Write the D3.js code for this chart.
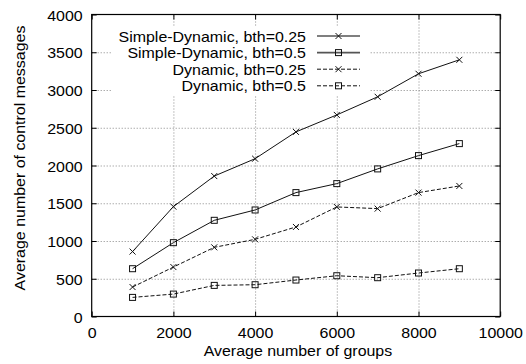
<!DOCTYPE html>
<html><head><meta charset="utf-8">
<script src="https://cdn.jsdelivr.net/npm/d3@7"></script>
<style>
body{margin:0;background:#fff;}
text{font-family:"Liberation Sans",Arial,sans-serif;font-size:14px;fill:#000;}
</style></head>
<body><svg id="c" width="526" height="364"></svg>
<script>
const groups = [1000,2000,3000,4000,5000,6000,7000,8000,9000];
const sd025 = [860,1455,1860,2090,2445,2670,2910,3215,3400];
const sd05  = [633,978,1274,1411,1641,1760,1955,2131,2290];
const dy025 = [390,655,916,1022,1186,1451,1429,1641,1729];
const dy05  = [253,297,412,421,483,540,514,576,633];
const seriesNames = ["Simple-Dynamic, bth=0.25","Simple-Dynamic, bth=0.5","Dynamic, bth=0.25","Dynamic, bth=0.5"];
const xTicks = [0,2000,4000,6000,8000,10000];
const yTicks = [0,500,1000,1500,2000,2500,3000,3500,4000];
const xTitle = "Average number of groups";
const yTitle = "Average number of control messages";

const series = [
  {name:seriesNames[0], vals:sd025, marker:"x", dash:null},
  {name:seriesNames[1], vals:sd05, marker:"sq", dash:null},
  {name:seriesNames[2], vals:dy025, marker:"x", dash:"4,2"},
  {name:seriesNames[3], vals:dy05, marker:"sq", dash:"4,2"}
];

const SX = 1.14;
const L=91.7, R=500.2, T=14.5, B=316.5;
const svg = d3.select("#c");
const x = d3.scaleLinear().domain([0,10000]).range([L,R]);
const y = d3.scaleLinear().domain([0,4000]).range([B,T]);

// grid
const grid = svg.append("g");
grid.append("g").attr("transform",`translate(0,${B})`)
  .call(d3.axisBottom(x).tickValues(xTicks.slice(1,-1)).tickSize(-(B-T)).tickFormat(""))
  .call(g=>{g.select(".domain").remove();g.selectAll("line").attr("stroke","#888").attr("stroke-dasharray","1,2");});
grid.append("g").attr("transform",`translate(${L},0)`)
  .call(d3.axisLeft(y).tickValues(yTicks.slice(1,-1)).tickSize(-(R-L)).tickFormat(""))
  .call(g=>{g.select(".domain").remove();g.selectAll("line").attr("stroke","#888").attr("stroke-dasharray","1,2");});

// legend mask (opaque key)
svg.append("rect").attr("x",112).attr("y",27).attr("width",258).attr("height",68).attr("fill","#fff");

// ticks on all sides
const tk = 5;
function tickAxis(gen, tr){
  svg.append("g").attr("transform",tr).call(gen)
    .call(g=>{g.select(".domain").remove();g.selectAll("line").attr("stroke","#000");});
}
tickAxis(d3.axisBottom(x).tickValues(xTicks).tickSize(-tk).tickFormat(""), `translate(0,${B})`);
tickAxis(d3.axisTop(x).tickValues(xTicks).tickSize(-tk).tickFormat(""), `translate(0,${T})`);
tickAxis(d3.axisLeft(y).tickValues(yTicks).tickSize(-tk).tickFormat(""), `translate(${L},0)`);
tickAxis(d3.axisRight(y).tickValues(yTicks).tickSize(-tk).tickFormat(""), `translate(${R},0)`);

// labels
const xa = svg.append("g").attr("transform",`translate(0,${B})`)
  .call(d3.axisBottom(x).tickValues(xTicks).tickSize(0).tickFormat(d3.format("d")));
xa.select(".domain").remove();
xa.selectAll("text").attr("y",0).attr("dy",null).attr("font-size",null).attr("font-family",null)
  .attr("transform",`translate(0,21) scale(${SX},1)`).style("font-size","14px");
const ya = svg.append("g").attr("transform",`translate(${L},0)`)
  .call(d3.axisLeft(y).tickValues(yTicks).tickSize(0).tickFormat(d3.format("d")));
ya.select(".domain").remove();
ya.selectAll("text").attr("x",0).attr("dy",null).attr("font-size",null).attr("font-family",null)
  .attr("transform",`translate(-9,5.5) scale(${SX},1)`).style("font-size","14px");

// frame
svg.append("rect").attr("x",L).attr("y",T).attr("width",R-L).attr("height",B-T)
  .attr("fill","none").attr("stroke","#000").attr("stroke-width",1.2);

// titles
svg.append("text").attr("text-anchor","middle")
  .attr("transform",`translate(${(L+R)/2+2},356) scale(${SX},1)`).text(xTitle);
svg.append("text").attr("text-anchor","middle")
  .attr("transform",`translate(25,158) rotate(-90) scale(${SX},1)`).text(yTitle);

function marker(g, type, cx, cy){
  if(type==="x"){
    g.append("path").attr("d",`M${cx-3},${cy-3}L${cx+3},${cy+3}M${cx-3},${cy+3}L${cx+3},${cy-3}`)
      .attr("stroke","#111").attr("stroke-width",1).attr("fill","none");
  } else {
    g.append("rect").attr("x",cx-3).attr("y",cy-3).attr("width",6).attr("height",6)
      .attr("stroke","#111").attr("stroke-width",1).attr("fill","none");
  }
}

const line = d3.line().x((d,i)=>x(groups[i])).y(d=>y(d));
series.forEach((s,k)=>{
  const g = svg.append("g");
  g.append("path").datum(s.vals).attr("d",line).attr("fill","none").attr("stroke","#111")
    .attr("stroke-width",1).attr("stroke-dasharray",s.dash);
  s.vals.forEach((v,i)=>marker(g,s.marker,x(groups[i]),y(v)));
  // legend
  const ly = 36 + k*16.6;
  svg.append("text").attr("text-anchor","end")
    .attr("transform",`translate(306,${ly+5.5}) scale(${SX},1)`).text(s.name);
  svg.append("line").attr("x1",317).attr("x2",360).attr("y1",ly).attr("y2",ly)
    .attr("stroke",s.dash?"#111":"#555").attr("stroke-width",s.dash?1:1.6).attr("stroke-dasharray",s.dash);
  marker(svg,s.marker,338.5,ly);
});
</script></body></html>
